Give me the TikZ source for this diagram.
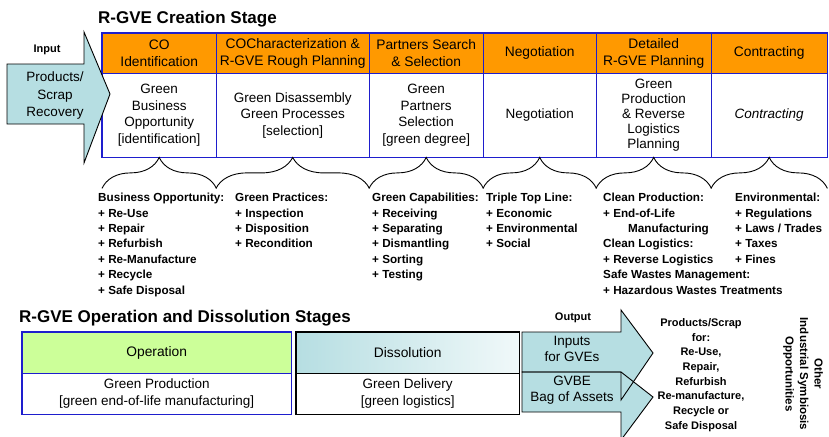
\documentclass[tikz,border=0pt]{standalone}
\usepackage{fontspec}
\setmainfont{Liberation Sans}
\setsansfont{Liberation Sans}
\usetikzlibrary{decorations.pathreplacing}

\definecolor{corange}{RGB}{255,153,0}
\definecolor{tblue}{RGB}{30,30,205}
\definecolor{ccyan}{RGB}{182,222,226}
\definecolor{cgreen}{RGB}{204,255,153}

\begin{document}
\begin{tikzpicture}[x=1pt,y=-1pt,
  hd/.style={draw=tblue, fill=corange, anchor=north west, inner sep=0pt, minimum height=40pt, align=center, font=\fontsize{13.8}{16.5}\selectfont},
  bd/.style={draw=tblue, fill=white, anchor=north west, inner sep=0pt, minimum height=84pt, align=center, font=\fontsize{13.5}{16.5}\selectfont},
  lst/.style={anchor=north west, inner sep=0pt, align=left, font=\bfseries\fontsize{11.7}{15.4}\selectfont},
  brc/.style={decorate, decoration={brace, amplitude=31pt}, line width=0.9pt},
  arr/.style={draw=black, line width=0.9pt, fill=ccyan, line join=miter},
  ttl/.style={anchor=west, inner sep=0pt, font=\bfseries\fontsize{17}{20}\selectfont},
  lbl/.style={inner sep=0pt, font=\bfseries\fontsize{11}{13}\selectfont}]
\useasboundingbox (0,0) rectangle (829,436);

% creation stage
\node[ttl] (t1) at (98,19) {R-GVE Creation Stage};

\node[hd, minimum width=114pt] (h1) at (102,33) {CO\\Identification};
\node[hd, minimum width=153pt] (h2) at (216,33) {COCharacterization \&\\R-GVE Rough Planning};
\node[hd, minimum width=114pt] (h3) at (369,33) {Partners Search\\\& Selection};
\node[hd, minimum width=113pt] (h4) at (483,33) {Negotiation};
\node[hd, minimum width=115pt] (h5) at (596,33) {Detailed\\R-GVE Planning};
\node[hd, minimum width=116pt] (h6) at (711,33) {Contracting};

\node[bd, minimum width=114pt] (b1) at (102,73) {Green\\Business\\Opportunity\\{[identification]}};
\node[bd, minimum width=153pt] (b2) at (216,73) {Green Disassembly\\Green Processes\\{[selection]}};
\node[bd, minimum width=114pt] (b3) at (369,73) {Green\\Partners\\Selection\\{[green degree]}};
\node[bd, minimum width=113pt] (b4) at (483,73) {Negotiation};
\node[bd, minimum width=115pt, font=\fontsize{13.5}{15.2}\selectfont] (b5) at (596,73) {Green\\Production\\\& Reverse\\Logistics\\Planning};
\node[bd, minimum width=116pt, font=\itshape\fontsize{13.5}{16.5}\selectfont] (b6) at (711,73) {Contracting};
\draw[tblue, line width=1.5pt] (h1.north west) rectangle (b6.south east);

% input arrow
\draw[arr] (7,64) -- (84,64) -- (84,32) -- (110,94) -- (84,163) -- (84,124) -- (7,124) -- cycle;
\node[lbl] (in) at (47,50) {Input};
\node[align=center, inner sep=0pt, font=\fontsize{13.5}{17.5}\selectfont] (prod) at (55,96) {Products/\\Scrap\\Recovery};

% braces under the stages
\foreach \c in {b1,b2,b3,b4,b5,b6}
  \draw[brc] ([yshift=-31pt]\c.south west) -- ([yshift=-31pt]\c.south east);

\node[lst] (l1) at (98,193) {Business Opportunity:\\+ Re-Use\\+ Repair\\+ Refurbish\\+ Re-Manufacture\\+ Recycle\\+ Safe Disposal};
\node[lst] (l2) at (235,193) {Green Practices:\\+ Inspection\\+ Disposition\\+ Recondition};
\node[lst] (l3) at (372,193) {Green Capabilities:\\+ Receiving\\+ Separating\\+ Dismantling\\+ Sorting\\+ Testing};
\node[lst] (l4) at (486,193) {Triple Top Line:\\+ Economic\\+ Environmental\\+ Social};
\node[lst] (l5) at (603,193) {Clean Production:\\+ End-of-Life\\\hspace*{25pt}Manufacturing\\Clean Logistics:\\+ Reverse Logistics\\Safe Wastes Management:\\+ Hazardous Wastes Treatments};
\node[lst] (l6) at (735,193) {Environmental:\\+ Regulations\\+ Laws / Trades\\+ Taxes\\+ Fines};

% operation and dissolution stages
\node[ttl] (t2) at (19,318) {R-GVE Operation and Dissolution Stages};

\node[hd, draw=tblue, fill=cgreen, minimum width=269pt, minimum height=41pt] (op) at (22,332) {Operation};
\node[bd, draw=tblue, minimum width=269pt, minimum height=41pt] (opb) at (22,373) {Green Production\\{[green end-of-life manufacturing]}};
\draw[tblue, line width=1.8pt] (op.north west) rectangle (opb.south east);

\node[hd, draw=black, left color=ccyan, right color=ccyan!20, minimum width=223pt, minimum height=41pt] (ds) at (296,332) {Dissolution};
\node[bd, draw=black, minimum width=223pt, minimum height=41pt] (dsb) at (296,373) {Green Delivery\\{[green logistics]}};
\draw[black, line width=1.3pt] (ds.north west) rectangle (dsb.south east);

% output arrows
\fill[ccyan] (522,372) -- (621,372) -- (653,397) -- (621,440) -- (621,412) -- (522,412) -- cycle;
\fill[ccyan] (522,332) -- (621,332) -- (621,310) -- (653,353) -- (621,400) -- (621,372) -- (522,372) -- cycle;
\draw[line width=0.9pt, line join=miter] (522,372) -- (621,372) -- (653,397) -- (621,440) -- (621,412) -- (522,412) -- cycle;
\draw[line width=0.9pt, line join=miter] (522,332) -- (621,332) -- (621,310) -- (653,353) -- (621,400) -- (621,372) -- (522,372) -- cycle;
\node[lbl] (out) at (573,318) {Output};
\node[align=center, inner sep=0pt, font=\fontsize{13.5}{16.5}\selectfont] (o1) at (572,349) {Inputs\\for GVEs};
\node[align=center, inner sep=0pt, font=\fontsize{13.5}{16.5}\selectfont] (o2) at (572,390) {GVBE\\Bag of Assets};

\node[align=center, inner sep=0pt, font=\bfseries\fontsize{11}{14.7}\selectfont] (ps) at (701,375) {Products/Scrap\\for:\\Re-Use,\\Repair,\\Refurbish\\Re-manufacture,\\Recycle or\\Safe Disposal};
\node[align=center, inner sep=0pt, rotate=-90, font=\bfseries\fontsize{11.5}{14.5}\selectfont] (oth) at (803,374) {Other\\Industrial Symbiosis\\Opportunities};
\end{tikzpicture}
\end{document}
